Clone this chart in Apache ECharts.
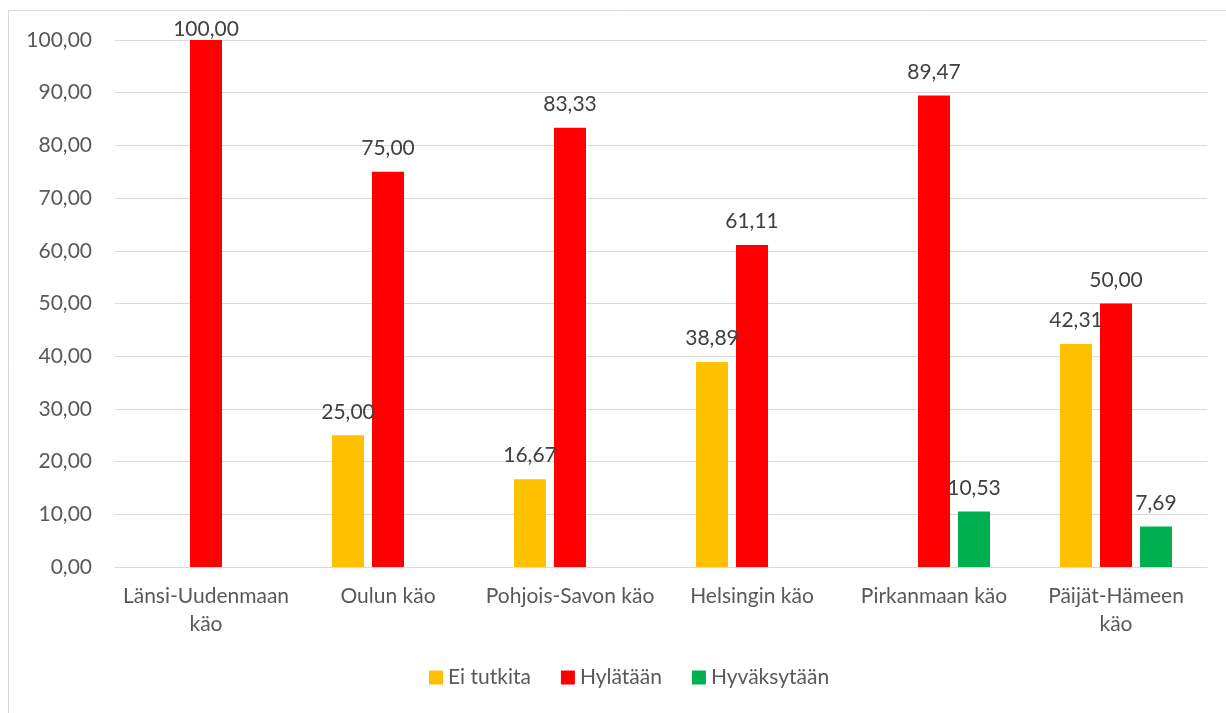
<!DOCTYPE html>
<html>
<head>
<meta charset="utf-8">
<script src="https://cdn.jsdelivr.net/npm/echarts@6/dist/echarts.min.js"></script>
<style>
  html, body { margin: 0; padding: 0; background: #fff; }
  #chart { width: 1226px; height: 713px; }
</style>
</head>
<body>
<div id="chart"></div>
<script>
// categories (line breaks as in the original wrapped axis labels)
const categories = ['Länsi-Uudenmaan\nkäo', 'Oulun käo', 'Pohjois-Savon käo', 'Helsingin käo', 'Pirkanmaan käo', 'Päijät-Hämeen\nkäo']
const seriesNames = ['Ei tutkita', 'Hylätään', 'Hyväksytään']
const eiTutkita = [null, 25.00, 16.67, 38.89, null, 42.31]
const hylataan = [100.00, 75.00, 83.33, 61.11, 89.47, 50.00]
const hyvaksytaan = [null, null, null, null, 10.53, 7.69]
const yTicks = [0, 10, 20, 30, 40, 50, 60, 70, 80, 90, 100]

const colors = ['#FFC000', '#FF0000', '#00B050']
const font = 'Lato, "Open Sans", sans-serif'
const fs = 21
const yMax = yTicks[yTicks.length - 1]

function fmt (v) {
  return Number(v).toFixed(2).replace('.', ',')
}

function makeSeries (name, values, color) {
  return {
    name: name,
    type: 'bar',
    barWidth: 32,
    barGap: '25%',
    itemStyle: { color: color },
    data: values.map(v => {
      if (v === null) return null
      // label hugging the plot top when the bar reaches the max
      return v >= yMax ? { value: v, label: { distance: 0 } } : v
    }),
    label: {
      show: true,
      position: 'top',
      distance: 13,
      color: '#404040',
      fontFamily: font,
      fontSize: fs,
      formatter: p => p.value == null ? '' : fmt(p.value)
    }
  }
}

const chart = echarts.init(document.getElementById('chart'))
chart.setOption({
  animation: false,
  textStyle: { fontFamily: font },
  graphic: [{
    type: 'rect',
    shape: { x: 8.5, y: 10.5, width: 1260, height: 740 },
    style: { fill: 'none', stroke: '#d9d9d9', lineWidth: 1 },
    silent: true,
    z: -1
  }],
  grid: { left: 115, right: 19, top: 40, bottom: 146 },
  legend: {
    bottom: 20,
    left: 424,
    itemWidth: 14,
    itemHeight: 14,
    itemGap: 30,
    icon: 'rect',
    textStyle: { color: '#595959', fontSize: fs, fontFamily: font },
    data: seriesNames
  },
  xAxis: {
    type: 'category',
    data: categories,
    axisTick: { show: false },
    axisLine: { lineStyle: { color: '#d9d9d9', width: 1 } },
    axisLabel: {
      color: '#595959',
      fontSize: fs,
      fontFamily: font,
      margin: 15,
      lineHeight: 28,
      interval: 0
    }
  },
  yAxis: {
    type: 'value',
    min: yTicks[0],
    max: yMax,
    interval: yTicks[1] - yTicks[0],
    axisLine: { show: false },
    axisTick: { show: false },
    splitLine: { lineStyle: { color: '#d9d9d9', width: 1 } },
    axisLabel: {
      color: '#595959',
      fontSize: fs,
      fontFamily: font,
      margin: 23,
      formatter: v => fmt(v)
    }
  },
  series: [
    makeSeries(seriesNames[0], eiTutkita, colors[0]),
    makeSeries(seriesNames[1], hylataan, colors[1]),
    makeSeries(seriesNames[2], hyvaksytaan, colors[2])
  ]
})
</script>
</body>
</html>
